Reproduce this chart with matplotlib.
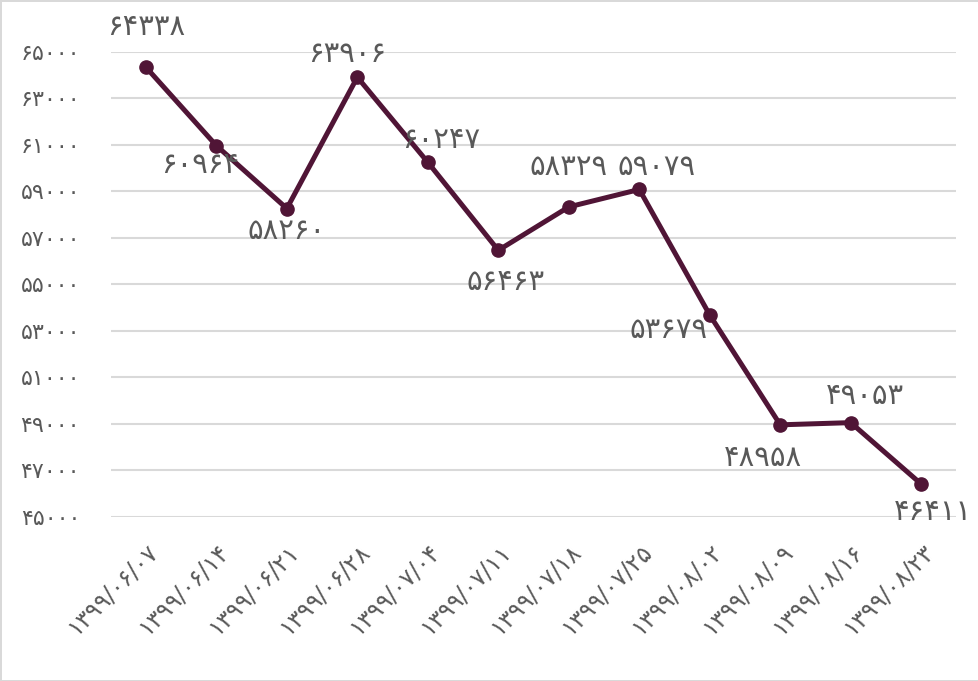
import matplotlib.pyplot as plt
import numpy as np

dates = ['1399/06/07', '1399/06/14', '1399/06/21', '1399/06/28', '1399/07/04', '1399/07/11',
         '1399/07/18', '1399/07/25', '1399/08/02', '1399/08/09', '1399/08/16', '1399/08/23']
values = [64338, 60964, 58260, 63906, 60247, 56463, 58329, 59079, 53679, 48958, 49053, 46411]
yticks = list(range(45000, 65001, 2000))

# where each value label sits relative to its point (pixels)
label_offsets = [(0, 40), (-16, -19), (0, -22), (-10, 23), (13, 22), (7, -32),
                 (0, 40), (17, 22), (-41, -15), (-17, -33), (14, 27), (12, -28)]

fa = str.maketrans('0123456789', '۰۱۲۳۴۵۶۷۸۹')  # persian digits
def fa_num(s):
    return str(s).translate(fa)

line_color = '#501536'
text_color = '#595959'

fig = plt.figure(figsize=(9.79, 6.81), dpi=100)
fig.patch.set_edgecolor('#d9d9d9')
fig.patch.set_linewidth(2)
ax = fig.add_axes([0.113, 0.241, 0.864, 0.683])

x = np.arange(len(values))
ax.plot(x, values, color=line_color, linewidth=3.6, marker='o', markersize=9.5, zorder=3)

for i, v in enumerate(values):
    ax.annotate(fa_num(v), (x[i], v), xytext=label_offsets[i], textcoords='offset pixels',
                ha='center', va='center', fontsize=21, color=text_color, annotation_clip=False)

ax.set_xlim(-0.5, len(values) - 0.5)
ax.set_ylim(45000, 65000)
ax.set_yticks(yticks)
ax.set_yticklabels([fa_num(t) for t in yticks], fontsize=16, color=text_color)
ax.set_xticks(x)
ax.set_xticklabels([fa_num(d) for d in dates], rotation=45, ha='right', rotation_mode='anchor',
                   fontsize=17, color=text_color)
ax.tick_params(axis='y', length=0, pad=22)
ax.tick_params(axis='x', length=0, pad=16)
ax.grid(axis='y', color='#d9d9d9', linewidth=1.5)
ax.set_axisbelow(True)
for s in ax.spines.values():
    s.set_visible(False)

plt.savefig('out.png', dpi=100)
